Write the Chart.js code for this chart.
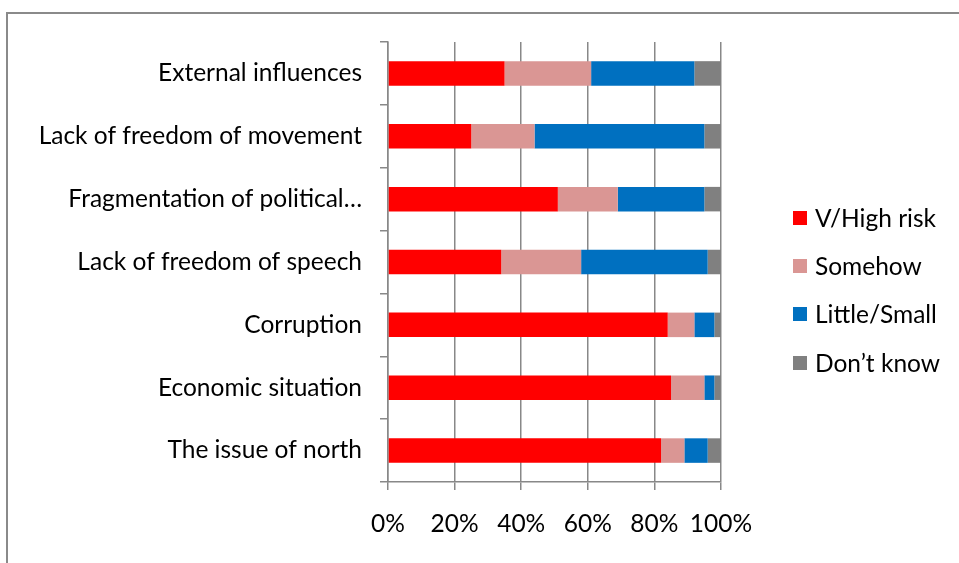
<!DOCTYPE html>
<html>
<head>
<meta charset="utf-8">
<script src="https://cdn.jsdelivr.net/npm/chart.js@4.4.0/dist/chart.umd.min.js"></script>
<style>
  html, body { margin: 0; padding: 0; background: #fff; }
  #wrap { position: relative; width: 959px; height: 563px; overflow: hidden; }
  #frame { position: absolute; left: 6px; top: 12px; width: 1000px; height: 600px;
           border-left: 2px solid #8a8a8a; border-top: 2px solid #8a8a8a; box-sizing: border-box; }
  canvas { position: absolute; left: 0; top: 0; }
  #legend { position: absolute; left: 793px; top: 204px; font-family: Lato, sans-serif; font-size: 24.5px; color: #000; }
  .item { height: 48.2px; display: flex; align-items: flex-start; white-space: nowrap; }
  .sw { width: 14px; height: 14px; margin-right: 8px; margin-top: 7px; flex: none; }
  .lab { line-height: 28px; }
</style>
</head>
<body>
<div id="wrap">
  <div id="frame"></div>
  <canvas id="c" width="959" height="563"></canvas>
  <div id="legend"></div>
</div>
<script>
const categories = [
  "External influences",
  "Lack of freedom of movement",
  "Fragmentation of political…",
  "Lack of freedom of speech",
  "Corruption",
  "Economic situation",
  "The issue of north"
];
const seriesNames = ["V/High risk", "Somehow", "Little/Small", "Don’t know"];
const highRisk   = [35, 25, 51, 34, 84, 85, 82];
const somehow    = [26, 19, 18, 24,  8, 10,  7];
const little     = [31, 51, 26, 38,  6,  3,  7];
const dontKnow   = [ 8,  5,  5,  4,  2,  2,  4];
const tickLabels = ["0%", "20%", "40%", "60%", "80%", "100%"];
const colors = ["#FF0000", "#DA9694", "#0070C0", "#808080"];

const FONT = "Lato, sans-serif";
const FSIZE = 24.5;
const GRID = "#888888";

const seriesValues = [highRisk, somehow, little, dontKnow];
const datasets = seriesNames.map((n, i) => ({
  label: n,
  data: seriesValues[i],
  backgroundColor: colors[i],
  borderWidth: 0,
  barPercentage: 0.39,
  categoryPercentage: 1
}));

const chart = new Chart(document.getElementById("c"), {
  type: "bar",
  data: { labels: categories, datasets },
  options: {
    indexAxis: "y",
    responsive: false,
    animation: false,
    layout: { padding: { left: 0, right: 238, top: 42, bottom: 0 } },
    plugins: { legend: { display: false }, tooltip: { enabled: false } },
    scales: {
      x: {
        stacked: true,
        min: 0, max: 100,
        afterFit: s => { s.height = 81; },
        ticks: {
          stepSize: 20,
          color: "#000",
          font: { family: FONT, size: FSIZE },
          padding: 19,
          maxRotation: 0,
          callback: (v, i) => tickLabels[i]
        },
        grid: { color: GRID, lineWidth: 1.5, tickLength: 8, drawTicks: true },
        border: { color: GRID, width: 1.5 }
      },
      y: {
        stacked: true,
        afterFit: s => { s.width = 388; },
        ticks: {
          color: "#000",
          font: { family: FONT, size: FSIZE },
          padding: 18,
          autoSkip: false
        },
        grid: { drawOnChartArea: false, drawTicks: true, tickLength: 8, color: GRID, lineWidth: 1.5, offset: true },
        border: { color: GRID, width: 1.5 }
      }
    }
  }
});

const leg = document.getElementById("legend");
chart.data.datasets.forEach(ds => {
  const it = document.createElement("div");
  it.className = "item";
  const sw = document.createElement("div");
  sw.className = "sw";
  sw.style.background = ds.backgroundColor;
  const lab = document.createElement("div");
  lab.className = "lab";
  lab.textContent = ds.label;
  it.appendChild(sw); it.appendChild(lab);
  leg.appendChild(it);
});
</script>
</body>
</html>
